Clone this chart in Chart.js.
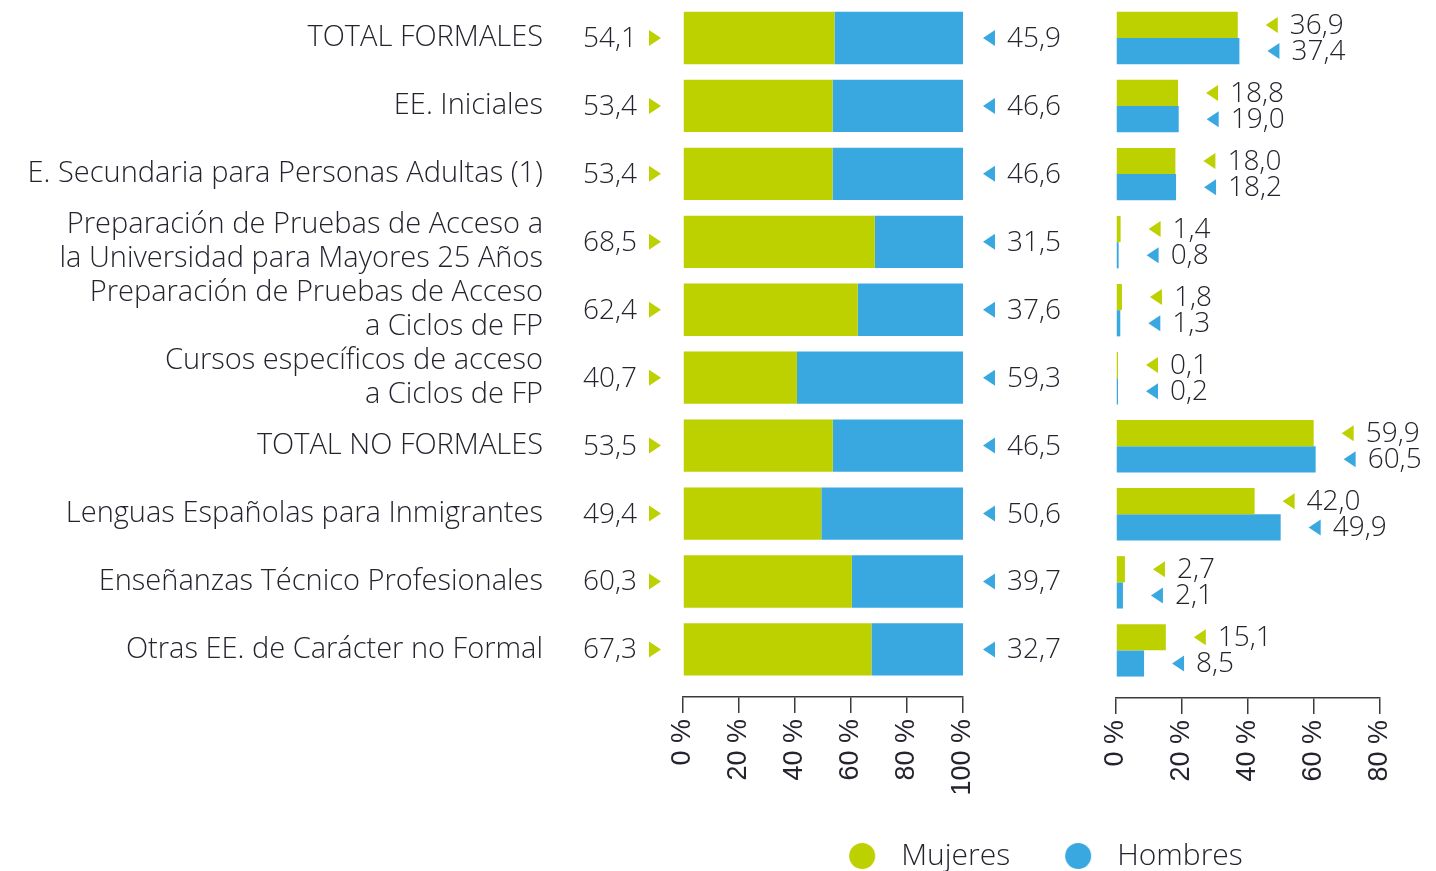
<!DOCTYPE html>
<html>
<head>
<meta charset="utf-8">
<script src="https://cdn.jsdelivr.net/npm/chart.js@4"></script>
<style>
  html, body { margin: 0; padding: 0; background: #fff; overflow: hidden; width: 1436px; height: 871px; }
  canvas { position: absolute; top: 0; }
  #left { left: 0; }
  #right { left: 701px; }
</style>
</head>
<body>
<canvas id="left" width="1100" height="871"></canvas>
<canvas id="right" width="735" height="881"></canvas>
<script>
const categories = [
  'TOTAL FORMALES',
  'EE. Iniciales',
  'E. Secundaria para Personas Adultas (1)',
  ['Preparación de Pruebas de Acceso a', 'la Universidad para Mayores 25 Años'],
  ['Preparación de Pruebas de Acceso', 'a Ciclos de FP'],
  ['Cursos específicos de acceso', 'a Ciclos de FP'],
  'TOTAL NO FORMALES',
  'Lenguas Españolas para Inmigrantes',
  'Enseñanzas Técnico Profesionales',
  'Otras EE. de Carácter no Formal'
];
const seriesNames = ['Mujeres', 'Hombres'];
const mujeresPct = [54.1, 53.4, 53.4, 68.5, 62.4, 40.7, 53.5, 49.4, 60.3, 67.3];
const hombresPct = [45.9, 46.6, 46.6, 31.5, 37.6, 59.3, 46.5, 50.6, 39.7, 32.7];
const mujeresDist = [36.9, 18.8, 18.0, 1.4, 1.8, 0.1, 59.9, 42.0, 2.7, 15.1];
const hombresDist = [37.4, 19.0, 18.2, 0.8, 1.3, 0.2, 60.5, 49.9, 2.1, 8.5];
const leftTicks = [0, 20, 40, 60, 80, 100];
const rightTicks = [0, 20, 40, 60, 80];

const GREEN = '#BDD000';
const BLUE = '#3AA8E0';
const TEXT = '#24242e';
const AXIS = '#3a3a3a';
const FONT = '"Open Sans", Lato, sans-serif';
const TICKFONT = '"Liberation Sans", Arial, sans-serif';
const WEIGHT = '300';

const fmt = v => v.toFixed(1).replace('.', ',');
const toPoints = arr => arr.map((v, i) => ({ x: v, y: i }));

function tri(ctx, tipX, baseX, y, color) {
  ctx.fillStyle = color;
  ctx.beginPath();
  ctx.moveTo(tipX, y);
  ctx.lineTo(baseX, y - 8);
  ctx.lineTo(baseX, y + 8);
  ctx.closePath();
  ctx.fill();
}

function dot(color) {
  const c = document.createElement('canvas');
  c.width = 28; c.height = 28;
  const g = c.getContext('2d');
  g.fillStyle = color;
  g.beginPath(); g.arc(14, 14, 13, 0, Math.PI * 2); g.fill();
  return c;
}

const yScaleBase = {
  type: 'linear',
  reverse: true,
  offset: false,
  min: -0.5,
  max: 9.7,
  stacked: true,
  afterBuildTicks: s => { s.ticks = categories.map((_, i) => ({ value: i })); }
};

const leftLabelsPlugin = {
  id: 'leftLabels',
  afterDatasetsDraw(chart) {
    const ctx = chart.ctx;
    const { left, right } = chart.chartArea;
    const meta = chart.getDatasetMeta(0);
    ctx.save();
    ctx.font = WEIGHT + ' 28px ' + FONT;
    ctx.textBaseline = 'middle';
    meta.data.forEach((bar, i) => {
      const y = bar.y;
      ctx.fillStyle = TEXT;
      ctx.textAlign = 'right';
      ctx.fillText(fmt(mujeresPct[i]), left - 46, y + 1);
      tri(ctx, left - 22, left - 34, y, GREEN);
      ctx.fillStyle = TEXT;
      ctx.textAlign = 'left';
      ctx.fillText(fmt(hombresPct[i]), right + 44, y + 1);
      tri(ctx, right + 20, right + 32, y, BLUE);
    });
    ctx.restore();
  }
};

const rightLabelsPlugin = {
  id: 'rightLabels',
  afterDatasetsDraw(chart) {
    const ctx = chart.ctx;
    ctx.save();
    ctx.font = WEIGHT + ' 28px ' + FONT;
    ctx.textBaseline = 'middle';
    ctx.textAlign = 'left';
    const sets = [mujeresDist, hombresDist];
    const cols = [GREEN, BLUE];
    sets.forEach((vals, d) => {
      chart.getDatasetMeta(d).data.forEach((bar, i) => {
        const end = bar.x;
        tri(ctx, end + 28, end + 40, bar.y, cols[d]);
        ctx.fillStyle = TEXT;
        ctx.fillText(fmt(vals[i]), end + 52, bar.y + 1);
      });
    });
    ctx.restore();
  }
};

const xTickFont = { family: TICKFONT, size: 27 };

new Chart(document.getElementById('left'), {
  type: 'bar',
  data: {
    datasets: [
      { label: seriesNames[0], data: toPoints(mujeresPct), backgroundColor: GREEN },
      { label: seriesNames[1], data: toPoints(hombresPct), backgroundColor: BLUE }
    ]
  },
  options: {
    indexAxis: 'y',
    responsive: false,
    animation: false,
    categoryPercentage: 0.77,
    barPercentage: 1,
    layout: { padding: { top: 4, right: 137, left: 0, bottom: 0 } },
    plugins: { legend: { display: false }, tooltip: { enabled: false } },
    scales: {
      x: {
        type: 'linear', stacked: true, min: 0, max: 100,
        afterBuildTicks: s => { s.ticks = leftTicks.map(v => ({ value: v })); },
        afterFit: s => { s.height = 174; s.paddingLeft = 0; s.paddingRight = 0; },
        grid: { drawOnChartArea: false, tickLength: 16, color: AXIS, lineWidth: 1.5 },
        border: { color: AXIS, width: 1.5 },
        ticks: { minRotation: 90, maxRotation: 90, padding: 6, color: TEXT, font: xTickFont, callback: v => v + ' %' }
      },
      y: Object.assign({}, yScaleBase, {
        afterFit: s => { s.width = 683; s.paddingTop = 0; s.paddingBottom = 0; },
        grid: { display: false },
        border: { display: false },
        ticks: {
          autoSkip: false, padding: 132, color: TEXT,
          font: { family: FONT, size: 29, weight: WEIGHT, lineHeight: 1.16 },
          callback: v => categories[v]
        }
      })
    }
  },
  plugins: [leftLabelsPlugin]
});

const dots = [dot(GREEN), dot(BLUE)];

new Chart(document.getElementById('right'), {
  type: 'bar',
  data: {
    datasets: [
      { label: seriesNames[0], data: toPoints(mujeresDist), backgroundColor: GREEN, minBarLength: 2 },
      { label: seriesNames[1], data: toPoints(hombresDist), backgroundColor: BLUE, minBarLength: 2 }
    ]
  },
  options: {
    indexAxis: 'y',
    responsive: false,
    animation: false,
    categoryPercentage: 0.77,
    barPercentage: 1,
    layout: { padding: { top: 4, right: 56, left: 0, bottom: 0 } },
    plugins: {
      tooltip: { enabled: false },
      legend: {
        position: 'bottom',
        align: 'center',
        labels: {
          usePointStyle: true,
          pointStyleWidth: 48,
          padding: 44,
          color: TEXT,
          font: { family: FONT, size: 30, weight: WEIGHT },
          generateLabels: chart => chart.data.datasets.map((ds, i) => ({
            text: ds.label, fillStyle: ds.backgroundColor, strokeStyle: ds.backgroundColor,
            lineWidth: 0, pointStyle: dots[i], hidden: false, datasetIndex: i, fontColor: TEXT
          }))
        }
      }
    },
    scales: {
      x: {
        type: 'linear', min: 0, max: 80,
        afterBuildTicks: s => { s.ticks = rightTicks.map(v => ({ value: v })); },
        afterFit: s => { s.height = 99; s.paddingLeft = 0; s.paddingRight = 0; },
        grid: { drawOnChartArea: false, tickLength: 16, color: AXIS, lineWidth: 1.5 },
        border: { color: AXIS, width: 1.5 },
        ticks: { minRotation: 90, maxRotation: 90, padding: 6, color: TEXT, font: xTickFont, callback: v => v + ' %' }
      },
      y: Object.assign({}, yScaleBase, {
        stacked: false,
        afterFit: s => { s.width = 415; s.paddingTop = 0; s.paddingBottom = 0; },
        grid: { display: false },
        border: { display: false },
        ticks: { display: false }
      })
    }
  },
  plugins: [rightLabelsPlugin]
});
</script>
</body>
</html>
